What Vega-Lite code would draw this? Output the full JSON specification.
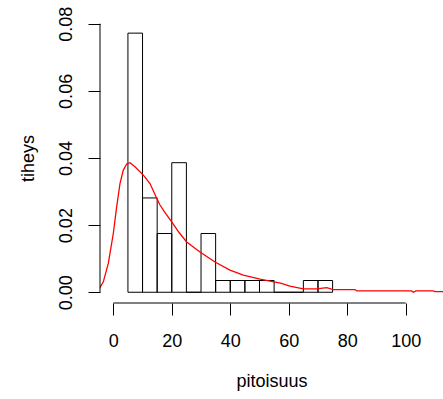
{
  "$schema": "https://vega.github.io/schema/vega-lite/v6.json",
  "width": 343,
  "height": 290,
  "autosize": {"type": "none"},
  "padding": {"left": 100, "top": 13, "right": 0, "bottom": 96},
  "background": "white",
  "config": {
    "view": {"stroke": null},
    "font": "Liberation Sans",
    "axis": {
      "domain": false,
      "grid": false,
      "tickColor": "black",
      "tickWidth": 1,
      "tickSize": 12,
      "labelColor": "black",
      "labelFontSize": 18,
      "labelFont": "Liberation Sans",
      "titleColor": "black",
      "titleFontSize": 18,
      "titleFontWeight": "normal",
      "titleFont": "Liberation Sans"
    }
  },
  "datasets": {
    "hist": [
      {"lo": 5, "hi": 10, "d": 0.0772},
      {"lo": 10, "hi": 15, "d": 0.0281},
      {"lo": 15, "hi": 20, "d": 0.0175},
      {"lo": 20, "hi": 25, "d": 0.0386},
      {"lo": 25, "hi": 30, "d": 0},
      {"lo": 30, "hi": 35, "d": 0.0175},
      {"lo": 35, "hi": 40, "d": 0.0035},
      {"lo": 40, "hi": 45, "d": 0.0035},
      {"lo": 45, "hi": 50, "d": 0.0035},
      {"lo": 50, "hi": 55, "d": 0.0035},
      {"lo": 55, "hi": 60, "d": 0},
      {"lo": 60, "hi": 65, "d": 0},
      {"lo": 65, "hi": 70, "d": 0.0035},
      {"lo": 70, "hi": 75, "d": 0.0035}
    ],
    "dens": [
      {"x": -6.0, "y": -0.0002},
      {"x": -5.13, "y": 0.0006},
      {"x": -3.42, "y": 0.0031},
      {"x": -1.71, "y": 0.0086},
      {"x": 0.0, "y": 0.0175},
      {"x": 1.16, "y": 0.0255},
      {"x": 2.29, "y": 0.0324},
      {"x": 3.42, "y": 0.0364},
      {"x": 4.58, "y": 0.0382},
      {"x": 5.71, "y": 0.0386},
      {"x": 7.42, "y": 0.0374},
      {"x": 10.26, "y": 0.0349},
      {"x": 12.55, "y": 0.0324},
      {"x": 14.84, "y": 0.028},
      {"x": 15.97, "y": 0.026},
      {"x": 17.44, "y": 0.024},
      {"x": 19.97, "y": 0.021},
      {"x": 22.5, "y": 0.0178},
      {"x": 25.1, "y": 0.015},
      {"x": 29.65, "y": 0.012},
      {"x": 34.78, "y": 0.009},
      {"x": 39.9, "y": 0.0066},
      {"x": 44.46, "y": 0.0051},
      {"x": 50.2, "y": 0.0039},
      {"x": 53.6, "y": 0.0033},
      {"x": 57.2, "y": 0.0027},
      {"x": 60.4, "y": 0.0018},
      {"x": 65.0, "y": 0.001},
      {"x": 69.6, "y": 0.001},
      {"x": 73.0, "y": 0.0014},
      {"x": 75.2, "y": 0.0008},
      {"x": 82.7, "y": 0.0008},
      {"x": 83.2, "y": 0.0004},
      {"x": 102.0, "y": 0.0004},
      {"x": 102.6, "y": 0.0},
      {"x": 103.5, "y": 0.0004},
      {"x": 109.4, "y": 0.0004},
      {"x": 110.0, "y": 0.0002},
      {"x": 114.0, "y": 0.0002}
    ]
  },
  "layer": [
    {
      "data": {"name": "hist"},
      "mark": {"type": "rect", "fill": "transparent", "stroke": "black", "strokeWidth": 1},
      "encoding": {
        "x": {
          "field": "lo", "type": "quantitative",
          "scale": {"domain": [-4.55, 112.76], "nice": false, "zero": false},
          "axis": {
            "values": [0, 20, 40, 60, 80, 100],
            "labelPadding": 17,
            "title": "pitoisuus",
            "titlePadding": 22
          }
        },
        "x2": {"field": "hi"},
        "y": {
          "field": "d", "type": "quantitative",
          "scale": {"domain": [-0.0032, 0.0832], "nice": false, "zero": false},
          "axis": {
            "values": [0, 0.02, 0.04, 0.06, 0.08],
            "format": ".2f",
            "labelAngle": -90,
            "labelAlign": "center",
            "labelBaseline": "alphabetic",
            "labelPadding": 17,
            "title": "tiheys",
            "titlePadding": 20
          }
        },
        "y2": {"datum": 0}
      }
    },
    {
      "data": {"name": "dens"},
      "mark": {"type": "line", "color": "#ff0000", "strokeWidth": 1.3, "clip": true},
      "encoding": {
        "x": {"field": "x", "type": "quantitative"},
        "y": {"field": "y", "type": "quantitative"}
      }
    },
    {
      "data": {"values": [{}]},
      "mark": {"type": "rule", "color": "black", "strokeWidth": 1},
      "encoding": {
        "x": {"datum": 0},
        "x2": {"datum": 100},
        "y": {"datum": -0.0032}
      }
    },
    {
      "data": {"values": [{}]},
      "mark": {"type": "rule", "color": "black", "strokeWidth": 1},
      "encoding": {
        "x": {"datum": -4.55},
        "y": {"datum": 0},
        "y2": {"datum": 0.08}
      }
    }
  ]
}
